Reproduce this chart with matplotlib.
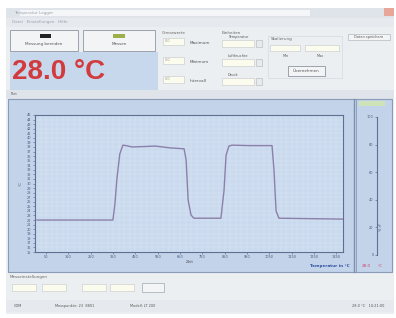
import matplotlib.pyplot as plt
from matplotlib.patches import Rectangle
from matplotlib.ticker import MultipleLocator

# Temperaturverlauf (Sekunden / °C)
zeit = [9, 349, 358, 367, 380, 394, 408, 435, 493, 538, 605, 668, 677, 686, 699, 712,
        833, 847, 856, 869, 883, 960, 1062, 1071, 1080, 1093, 1380]
temp = [22.0, 22.0, 25.5, 31.0, 36.5, 38.4, 38.3, 38.0, 38.1, 38.2, 37.8, 37.6, 35.2,
        26.4, 23.1, 22.4, 22.4, 28.5, 36.2, 38.2, 38.4, 38.3, 38.3, 32.8, 24.0, 22.4, 22.2]
x_ticks = [50, 150, 250, 350, 450, 550, 650, 750, 850, 950, 1050, 1150, 1250, 1350]
y2_ticks = [0, 20, 40, 60, 80, 100]
aktuell = "28.0 °C"

W, H = 396, 318
fig = plt.figure(figsize=(W / 100, H / 100), dpi=100)
fig.patch.set_facecolor('white')

# Hintergrund / Fenster (Pixelkoordinaten)
ui = fig.add_axes([0, 0, 1, 1])
ui.set_xlim(0, W)
ui.set_ylim(H, 0)
ui.axis('off')


def box(x, y, w, h, fc, ec='none', lw=0.6, z=1):
    ui.add_patch(Rectangle((x, y), w, h, facecolor=fc, edgecolor=ec, lw=lw, zorder=z))


def txt(x, y, s, size=3, color='#555555', **kw):
    ui.text(x, y, s, fontsize=size, color=color, va='center', **kw)


box(6, 8, 388, 306, '#eceff2')
box(6, 8, 388, 10, '#dfe4ea')
box(20, 10, 290, 6, '#f5f6f8')
box(384, 8, 10, 8, '#e8a59a')
txt(14, 13, 'Temperatur Logger', color='#9aa3ad')
box(6, 18, 388, 9, '#e6e9ed')
txt(12, 22, 'Datei   Einstellungen   Hilfe', color='#9aa3ad')

# Buttons
box(10, 30, 68, 21, '#f3f4f5', '#8e96a0')
box(40, 34, 11, 4, '#222222', z=2)
txt(44, 44, 'Messung beenden', ha='center')
box(83, 30, 72, 21, '#f3f4f5', '#8e96a0')
box(113, 34, 12, 4, '#9bb04a', z=2)
txt(119, 44, 'Messen', ha='center')

# Anzeige
box(10, 52, 148, 38, '#c8d8ec')
ui.text(12, 72, aktuell, fontsize=20, fontweight='bold', color='#d23b3e', va='center',
        family=['Liberation Sans', 'DejaVu Sans'])

# Gruppen oben
txt(162, 33, 'Grenzwerte', color='#666666')
for yy, lab in zip([41, 60, 79], ['Maximum', 'Minimum', 'Intervall']):
    box(163, yy - 3, 21, 7, '#fbfbee', '#c5c8cc', lw=0.4)
    txt(165, yy, '0.0', size=2.5, color='#999999')
    txt(190, yy + 2, lab)
txt(222, 33, 'Einheiten', color='#666666')
for yy, lab in zip([41, 60, 79], ['Temperatur', 'Luftfeuchte', 'Druck']):
    txt(228, yy - 4, lab, size=2.5)
    box(222, yy - 1, 32, 7, '#fbfbee', '#c5c8cc', lw=0.4)
    box(256, yy - 1, 6, 7, '#e8eaec', '#b0b5bb', lw=0.4)
box(268, 36, 74, 42, 'none', '#d0d4d8', lw=0.4)
txt(271, 39, 'Skalierung', color='#666666')
box(270, 45, 30, 6, '#fbfbee', '#c5c8cc', lw=0.4)
box(305, 45, 34, 6, '#fbfbee', '#c5c8cc', lw=0.4)
txt(283, 56, 'Min', size=2.5)
txt(317, 56, 'Max', size=2.5)
box(288, 66, 37, 10, '#f3f4f5', '#8e96a0')
txt(306, 71, 'Übernehmen', ha='center')
box(348, 34, 42, 6, '#f3f4f5', '#a5abb2', lw=0.4)
txt(369, 37, 'Daten speichern', ha='center', size=2.5)

# Diagrammbereich
box(6, 90, 388, 9, '#dfe4ea')
txt(11, 94, 'Plot', size=2.5)
box(8, 99, 384, 173, '#c3d3ea', '#8a9bb8', lw=0.8)
ui.plot([354, 354], [99, 272], color='#7d8fae', lw=1.0)
ui.plot([356, 356], [99, 272], color='#7d8fae', lw=0.5)
box(359, 101, 26, 5, '#cfe3b8')
txt(19, 183, '°C', rotation=90)
txt(190, 262, 'Zeit', ha='center')
txt(350, 266, 'Temperatur in °C', ha='right', color='#2e4f9e', fontweight='bold')
txt(362, 266, '28.0', color='#d04060')
txt(378, 266, '°C', color='#d04060')

# Unterer Bereich + Statusleiste
txt(10, 277, 'Messeinstellungen', color='#666666')
for xx in [12, 42, 82, 110]:
    box(xx, 284, 24, 7, '#fbfbee', '#c5c8cc', lw=0.4)
box(142, 283, 22, 9, '#f3f4f5', '#8e96a0', lw=0.4)
box(6, 300, 388, 12, '#e6e9ed')
txt(14, 306, 'COM', size=2.5)
txt(55, 306, 'Messpunkte: 23  8801', size=2.5)
txt(130, 306, 'Modell: LT 200', size=2.5)
txt(352, 306, '28.0 °C   10:21:00', size=2.5)

# Hauptdiagramm
ax = fig.add_axes([35 / W, (H - 252) / H, 308 / W, 137 / H])
ax.set_facecolor('#c9d9ee')
ax.plot(zeit, temp, color='#8c80aa', lw=1.0)
ax.set_xlim(0, 1380)
ax.set_ylim(15, 45)
ax.set_xticks(x_ticks)
ax.set_xticklabels([str(t) for t in x_ticks])
ax.xaxis.set_minor_locator(MultipleLocator(25))
ax.yaxis.set_major_locator(MultipleLocator(1))
ax.grid(True, which='both', color='#dce6f4', lw=0.35)
ax.tick_params(labelsize=2.5, colors='#4a5a7a', length=1.5, width=0.4, pad=1)
ax.tick_params(which='minor', length=0)
for s in ax.spines.values():
    s.set_color('#5f6f90')
    s.set_linewidth(0.8)

# Zweite Achse rechts
ax2 = fig.add_axes([377 / W, (H - 255) / H, 0.001, 138 / H])
ax2.set_ylim(0, 100)
ax2.set_yticks(y2_ticks)
ax2.set_xticks([])
ax2.set_facecolor('none')
ax2.tick_params(labelsize=2.5, colors='#4a5a7a', length=1.5, width=0.4, pad=1)
for k in ['top', 'bottom', 'right']:
    ax2.spines[k].set_visible(False)
ax2.spines['left'].set_color('#5f6f90')
ax2.spines['left'].set_linewidth(0.8)
ax2.text(4, 18, '% rF', fontsize=2.5, color='#4a5a7a', rotation=90, transform=ax2.get_yaxis_transform())

fig.savefig('out.png', dpi=100)
